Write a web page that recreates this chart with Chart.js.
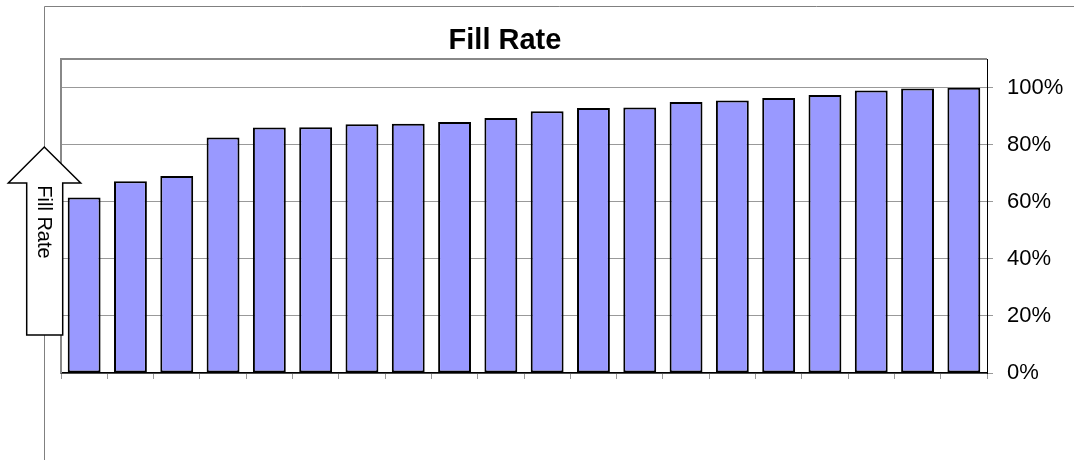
<!DOCTYPE html>
<html>
<head>
<meta charset="utf-8">
<script src="https://cdn.jsdelivr.net/npm/chart.js@4/dist/chart.umd.min.js"></script>
<style>
  html, body { margin: 0; padding: 0; background: #fff; }
  canvas { display: block; }
</style>
</head>
<body>
<canvas id="c" width="1074" height="460"></canvas>
<script>
// ---- data ----
const categories = ['1','2','3','4','5','6','7','8','9','10','11','12','13','14','15','16','17','18','19','20'];
const fillRate = [0.615, 0.672, 0.690, 0.825, 0.860, 0.861, 0.871, 0.873, 0.879, 0.893,
                  0.917, 0.928, 0.930, 0.949, 0.955, 0.963, 0.974, 0.990, 0.997, 0.999];
const yTickValues = [0, 0.2, 0.4, 0.6, 0.8, 1.0];
const chartTitle = 'Fill Rate';
const arrowLabel = 'Fill Rate';

const decor = {
  id: 'decor',
  beforeDraw(chart) {
    const ctx = chart.ctx;
    ctx.save();
    ctx.fillStyle = '#fff';
    ctx.fillRect(0, 0, chart.width, chart.height);
    // outer frame (top and left)
    ctx.strokeStyle = '#808080';
    ctx.lineWidth = 1;
    ctx.beginPath();
    ctx.moveTo(44.5, chart.height);
    ctx.lineTo(44.5, 6.5);
    ctx.lineTo(chart.width, 6.5);
    ctx.stroke();
    ctx.restore();
  },
  afterDraw(chart) {
    const ctx = chart.ctx;
    const a = chart.chartArea;
    ctx.save();
    // plot border top & left (grey)
    ctx.strokeStyle = '#888';
    ctx.lineWidth = 2;
    ctx.beginPath();
    ctx.moveTo(a.left, a.bottom);
    ctx.lineTo(a.left, a.top);
    ctx.lineTo(a.right, a.top);
    ctx.stroke();
    // title
    ctx.fillStyle = '#000';
    ctx.font = 'bold 29px "Liberation Sans", Arial, sans-serif';
    ctx.textAlign = 'center';
    ctx.textBaseline = 'alphabetic';
    ctx.fillText(chartTitle, 505, 49);
    // arrow
    ctx.beginPath();
    ctx.moveTo(44.3, 147);
    ctx.lineTo(80.7, 183);
    ctx.lineTo(62.7, 183);
    ctx.lineTo(62.7, 335);
    ctx.lineTo(26.7, 335);
    ctx.lineTo(26.7, 183);
    ctx.lineTo(8.3, 183);
    ctx.closePath();
    ctx.fillStyle = '#fff';
    ctx.fill();
    ctx.strokeStyle = '#000';
    ctx.lineWidth = 1.5;
    ctx.stroke();
    ctx.translate(44, 222);
    ctx.rotate(Math.PI / 2);
    ctx.fillStyle = '#000';
    ctx.font = '20px "Liberation Sans", Arial, sans-serif';
    ctx.textAlign = 'center';
    ctx.textBaseline = 'middle';
    ctx.fillText(arrowLabel, 0, 0);
    ctx.restore();
  }
};

new Chart(document.getElementById('c'), {
  type: 'bar',
  data: {
    labels: categories,
    datasets: [{
      data: fillRate,
      backgroundColor: '#9999FF',
      borderColor: '#000',
      borderWidth: 2,
      borderSkipped: false,
      categoryPercentage: 1.0,
      barPercentage: 0.71
    }]
  },
  options: {
    responsive: false,
    animation: false,
    devicePixelRatio: 1,
    layout: { padding: { left: 61, top: 59, right: 0, bottom: 0 } },
    plugins: { legend: { display: false }, title: { display: false }, tooltip: { enabled: false } },
    scales: {
      x: {
        offset: true,
        grid: { drawOnChartArea: false, drawTicks: true, tickLength: 6, offset: true, color: '#999', lineWidth: 1 },
        border: { color: '#000', width: 1.5 },
        ticks: { display: false },
        afterFit(s) { s.height = 87; }
      },
      y: {
        position: 'right',
        min: 0,
        max: 1.1,
        afterBuildTicks(s) { s.ticks = yTickValues.map(v => ({ value: v })); },
        grid: { color: '#999', lineWidth: 1, tickLength: 6 },
        border: { color: '#000', width: 1 },
        ticks: {
          padding: 14,
          color: '#000',
          font: { family: '"Liberation Sans", Arial, sans-serif', size: 22 },
          callback: v => Math.round(v * 100) + '%'
        },
        afterFit(s) { s.width = 87; }
      }
    }
  },
  plugins: [decor]
});
</script>
</body>
</html>
